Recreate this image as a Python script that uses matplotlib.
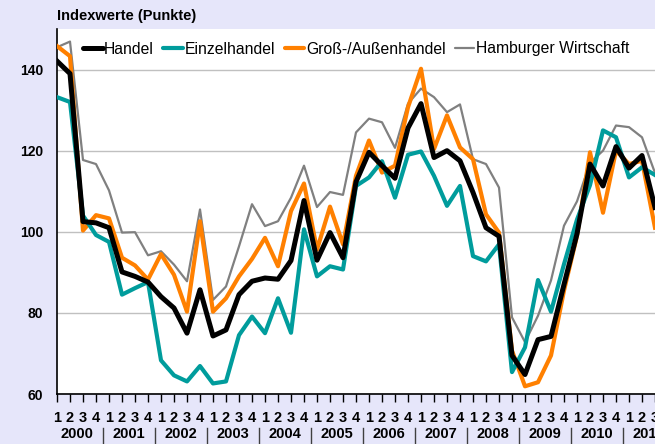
import matplotlib.pyplot as plt

plt.rcParams['font.family'] = ['Liberation Sans', 'DejaVu Sans']

# quarterly index values, 2000 Q1 .. 2011 Q3
years = [str(y) for y in range(2000, 2012)]
quarters = ['1', '2', '3', '4']

handel = [142.1, 139.0, 102.5, 102.2, 101.0, 90.1, 89.0, 87.6, 84.0, 81.2, 75.0, 85.7,
          74.3, 75.8, 84.5, 87.8, 88.6, 88.3, 92.9, 107.7, 93.0, 99.8, 93.6, 112.3,
          119.6, 116.3, 113.2, 125.6, 131.6, 118.3, 120.0, 117.5, 109.7, 101.0, 98.9, 69.5,
          64.8, 73.4, 74.2, 87.0, 99.5, 116.7, 111.3, 121.0, 115.7, 118.8, 106.0]
einzelhandel = [133.2, 132.0, 104.0, 99.2, 97.5, 84.5, 86.1, 87.6, 68.3, 64.6, 63.1, 66.9,
                62.6, 63.1, 74.5, 79.1, 75.0, 83.6, 75.1, 100.6, 89.0, 91.5, 90.7, 111.3,
                113.4, 117.4, 108.4, 119.0, 119.8, 113.8, 106.4, 111.3, 94.0, 92.7, 96.9, 65.4,
                71.5, 88.1, 80.3, 92.0, 103.0, 111.5, 125.0, 123.3, 113.4, 115.9, 114.0]
gross_aussen = [145.8, 143.3, 100.3, 104.1, 103.3, 93.6, 91.7, 88.2, 94.5, 89.4, 80.3, 102.6,
                80.3, 83.6, 89.0, 93.3, 98.5, 91.5, 105.1, 111.9, 95.6, 106.2, 96.9, 113.8,
                122.5, 114.6, 116.3, 130.7, 140.2, 120.4, 128.7, 120.8, 117.9, 104.3, 99.8, 70.7,
                61.9, 62.9, 69.5, 85.5, 99.0, 119.6, 104.7, 120.0, 116.7, 117.5, 101.0]
hamburg = [145.5, 146.9, 117.7, 116.7, 110.2, 99.8, 99.9, 94.2, 95.2, 91.9, 87.8, 105.5,
           83.2, 86.5, 96.4, 106.8, 101.4, 102.6, 108.4, 116.3, 106.1, 109.8, 109.1, 124.5,
           127.9, 127.0, 120.7, 131.6, 135.3, 133.2, 129.5, 131.4, 117.9, 116.7, 110.9, 78.9,
           72.8, 79.3, 88.0, 101.5, 107.5, 117.0, 120.0, 126.2, 125.8, 123.3, 114.5]

n_slots = len(years) * 4
x = list(range(len(handel)))

fig = plt.figure(figsize=(6.55, 4.44), dpi=100, facecolor='#E6E6FA')
# plot area runs past the right edge of the picture, like the original crop
ax = fig.add_axes([57 / 655, 50 / 444, n_slots * 13 / 655, 365 / 444])
ax.set_facecolor('white')

ax.plot(x, hamburg, color='#808080', lw=1.6, zorder=2, solid_joinstyle='round',
        label='Hamburger Wirtschaft')
ax.plot(x, gross_aussen, color='#FF8000', lw=3.0, zorder=3, solid_joinstyle='round',
        label='Groß-/Außenhandel')
ax.plot(x, einzelhandel, color='#009C9C', lw=3.0, zorder=4, solid_joinstyle='round',
        label='Einzelhandel')
ax.plot(x, handel, color='black', lw=3.6, zorder=5, solid_joinstyle='round',
        label='Handel')

ax.set_xlim(0, n_slots)
ax.set_ylim(60, 150)

ax.set_yticks([60, 80, 100, 120, 140])
ax.yaxis.grid(True, color='#C0C0C0', lw=1)
ax.set_axisbelow(True)
ax.tick_params(axis='y', length=0, pad=10, labelsize=10)
for lab in ax.get_yticklabels():
    lab.set_fontweight('bold')

ax.set_xticks(range(n_slots))
ax.set_xticklabels(quarters * len(years), fontsize=10.5, fontweight='bold')
ax.tick_params(axis='x', direction='out', length=6, width=1, pad=6)

for s in ['top', 'right']:
    ax.spines[s].set_visible(False)
ax.spines['left'].set_linewidth(1.2)
ax.spines['bottom'].set_linewidth(1.2)

# year labels and separators under the quarter numbers
trans = ax.get_xaxis_transform()
for k, yr in enumerate(years):
    ax.text(4 * k + 1.5, -0.109, yr, transform=trans, ha='center', va='center',
            fontsize=10.5, fontweight='bold', clip_on=False)
    if k > 0:
        ax.plot([4 * k - 0.5] * 2, [-0.092, -0.134], transform=trans, color='#404040',
                lw=1, clip_on=False)

fig.text(57 / 655, 1 - 16 / 444, 'Indexwerte (Punkte)', ha='left', va='center',
         fontsize=10.5, fontweight='bold')

h, l = ax.get_legend_handles_labels()
order = [3, 2, 1, 0]
leg = ax.legend([h[i] for i in order], [l[i] for i in order], ncol=4, loc='center left',
                bbox_to_anchor=(83 / 655, 1 - 49 / 444), bbox_transform=fig.transFigure,
                frameon=False, borderpad=0, borderaxespad=0, handlelength=1.25,
                handletextpad=0.1, columnspacing=0.6, fontsize=11.3)
for line in leg.get_lines():
    line.set_solid_capstyle('round')

fig.savefig('out.png', dpi=100, facecolor=fig.get_facecolor())
